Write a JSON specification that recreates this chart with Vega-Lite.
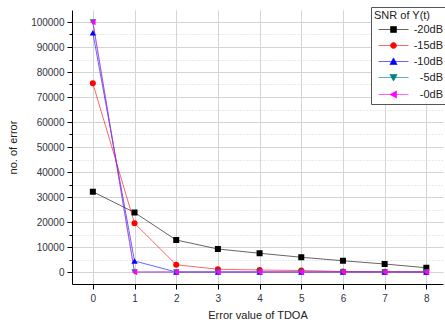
{
  "$schema": "https://vega.github.io/schema/vega-lite/v6.json",
  "width": 371,
  "height": 274,
  "autosize": {"type": "none"},
  "padding": {"left": 72, "top": 10, "right": 2, "bottom": 43},
  "background": "white",
  "config": {
    "view": {"stroke": null},
    "font": "Liberation Sans",
    "axis": {
      "labelFont": "Liberation Sans",
      "titleFont": "Liberation Sans",
      "labelFontSize": 10,
      "titleFontSize": 11,
      "labelColor": "#333344",
      "titleColor": "#222",
      "titleFontWeight": "normal",
      "domainColor": "#000",
      "tickColor": "#000",
      "gridColor": "#d4d4d4",
      "gridWidth": 1
    }
  },
  "data": {
    "values": [
      {"x": 0, "v": 32100, "s": "-20dB"}, {"x": 1, "v": 23800, "s": "-20dB"}, {"x": 2, "v": 12800, "s": "-20dB"},
      {"x": 3, "v": 9200, "s": "-20dB"}, {"x": 4, "v": 7500, "s": "-20dB"}, {"x": 5, "v": 5900, "s": "-20dB"},
      {"x": 6, "v": 4500, "s": "-20dB"}, {"x": 7, "v": 3200, "s": "-20dB"}, {"x": 8, "v": 1700, "s": "-20dB"},
      {"x": 0, "v": 75500, "s": "-15dB"}, {"x": 1, "v": 19500, "s": "-15dB"}, {"x": 2, "v": 2900, "s": "-15dB"},
      {"x": 3, "v": 1100, "s": "-15dB"}, {"x": 4, "v": 800, "s": "-15dB"}, {"x": 5, "v": 600, "s": "-15dB"},
      {"x": 6, "v": 200, "s": "-15dB"}, {"x": 7, "v": 100, "s": "-15dB"}, {"x": 8, "v": 50, "s": "-15dB"},
      {"x": 0, "v": 95700, "s": "-10dB"}, {"x": 1, "v": 4400, "s": "-10dB"}, {"x": 2, "v": 0, "s": "-10dB"},
      {"x": 3, "v": 0, "s": "-10dB"}, {"x": 4, "v": 0, "s": "-10dB"}, {"x": 5, "v": 0, "s": "-10dB"},
      {"x": 6, "v": 0, "s": "-10dB"}, {"x": 7, "v": 0, "s": "-10dB"}, {"x": 8, "v": 0, "s": "-10dB"},
      {"x": 0, "v": 100000, "s": "-5dB"}, {"x": 1, "v": 0, "s": "-5dB"}, {"x": 2, "v": 0, "s": "-5dB"},
      {"x": 3, "v": 0, "s": "-5dB"}, {"x": 4, "v": 0, "s": "-5dB"}, {"x": 5, "v": 0, "s": "-5dB"},
      {"x": 6, "v": 0, "s": "-5dB"}, {"x": 7, "v": 0, "s": "-5dB"}, {"x": 8, "v": 0, "s": "-5dB"},
      {"x": 0, "v": 100000, "s": "-0dB"}, {"x": 1, "v": 0, "s": "-0dB"}, {"x": 2, "v": 0, "s": "-0dB"},
      {"x": 3, "v": 0, "s": "-0dB"}, {"x": 4, "v": 0, "s": "-0dB"}, {"x": 5, "v": 0, "s": "-0dB"},
      {"x": 6, "v": 0, "s": "-0dB"}, {"x": 7, "v": 0, "s": "-0dB"}, {"x": 8, "v": 0, "s": "-0dB"}
    ]
  },
  "encoding": {
    "x": {
      "field": "x", "type": "quantitative",
      "scale": {"domain": [-0.5, 8.4], "nice": false, "zero": false},
      "axis": {
        "title": "Error value of TDOA",
        "format": "d",
        "values": [0, 0.5, 1, 1.5, 2, 2.5, 3, 3.5, 4, 4.5, 5, 5.5, 6, 6.5, 7, 7.5, 8],
        "labelExpr": "datum.value % 1 === 0 ? datum.label : ''",
        "tickSize": {"condition": {"test": "datum.value % 1 === 0", "value": 5}, "value": 3},
        "gridDash": {"condition": {"test": "datum.value % 1 === 0", "value": []}, "value": [1, 2]},
        "labelPadding": 4,
        "titlePadding": 6,
        "grid": true
      }
    },
    "y": {
      "field": "v", "type": "quantitative",
      "scale": {"domain": [-4800, 104800], "nice": false, "zero": false},
      "axis": {
        "title": "no. of error",
        "format": "d",
        "values": [0, 5000, 10000, 15000, 20000, 25000, 30000, 35000, 40000, 45000, 50000, 55000, 60000, 65000, 70000, 75000, 80000, 85000, 90000, 95000, 100000],
        "labelExpr": "datum.value % 10000 === 0 ? datum.label : ''",
        "tickSize": {"condition": {"test": "datum.value % 10000 === 0", "value": 5}, "value": 3},
        "gridDash": {"condition": {"test": "datum.value % 10000 === 0", "value": []}, "value": [1, 2]},
        "labelPadding": 3,
        "titlePadding": 12,
        "grid": true
      }
    }
  },
  "layer": [
    {
      "mark": {"type": "line", "strokeWidth": 1, "opacity": 0.6},
      "encoding": {
        "color": {
          "field": "s", "type": "nominal",
          "scale": {
            "domain": ["-20dB", "-15dB", "-10dB", "-5dB", "-0dB"],
            "range": ["#000000", "#ff0000", "#0000ff", "#008080", "#ff00ff"]
          },
          "legend": {
            "title": "SNR of Y(t)",
            "orient": "none",
            "legendX": 299,
            "legendY": -3,
            "padding": 3,
            "strokeColor": "#555",
            "fillColor": "white",
            "titleFont": "Liberation Sans",
            "titleFontSize": 11,
            "titleFontWeight": "normal",
            "titleColor": "#222",
            "titlePadding": 3,
            "labelFont": "Liberation Sans",
            "labelFontSize": 11,
            "labelColor": "#222",
            "labelAlign": "right",
            "labelOffset": 44,
            "symbolOffset": 14,
            "symbolSize": 36,
            "symbolStrokeWidth": 1,
            "symbolOpacity": 1,
            "rowPadding": 4,
            "encode": {
              "symbols": {
                "update": {
                  "shape": {"signal": "datum.value === '-20dB' ? 'M-5,0H5M-1,-1H1V1H-1Z' : datum.value === '-15dB' ? 'M-5,0H5M-1,0A1,1,0,1,1,1,0A1,1,0,1,1,-1,0Z' : datum.value === '-10dB' ? 'M-5,0H5M0,-1.2L1.2,1L-1.2,1Z' : datum.value === '-5dB' ? 'M-5,0H5M0,1.2L1.2,-1L-1.2,-1Z' : 'M-5,0H5M-1.2,0L1,-1.2L1,1.2Z'"},
                  "fill": {"scale": "color", "field": "value"},
                  "strokeOpacity": {"value": 0.6},
                  "opacity": {"value": 1}
                }
              }
            }
          }
        }
      }
    },
    {
      "transform": [{"filter": "datum.s === '-20dB'"}],
      "mark": {"type": "point", "filled": true, "opacity": 1, "size": 36, "shape": "square"},
      "encoding": {"color": {"field": "s", "type": "nominal", "legend": null}}
    },
    {
      "transform": [{"filter": "datum.s === '-15dB'"}],
      "mark": {"type": "point", "filled": true, "opacity": 1, "size": 36, "shape": "circle"},
      "encoding": {"color": {"field": "s", "type": "nominal", "legend": null}}
    },
    {
      "transform": [{"filter": "datum.s === '-10dB'"}],
      "mark": {"type": "point", "filled": true, "opacity": 1, "size": 40, "shape": "triangle-up"},
      "encoding": {"color": {"field": "s", "type": "nominal", "legend": null}}
    },
    {
      "transform": [{"filter": "datum.s === '-5dB'"}],
      "mark": {"type": "point", "filled": true, "opacity": 1, "size": 40, "shape": "triangle-down"},
      "encoding": {"color": {"field": "s", "type": "nominal", "legend": null}}
    },
    {
      "transform": [{"filter": "datum.s === '-0dB'"}],
      "mark": {"type": "point", "filled": true, "opacity": 1, "size": 40, "shape": "triangle-left"},
      "encoding": {"color": {"field": "s", "type": "nominal", "legend": null}}
    }
  ]
}
